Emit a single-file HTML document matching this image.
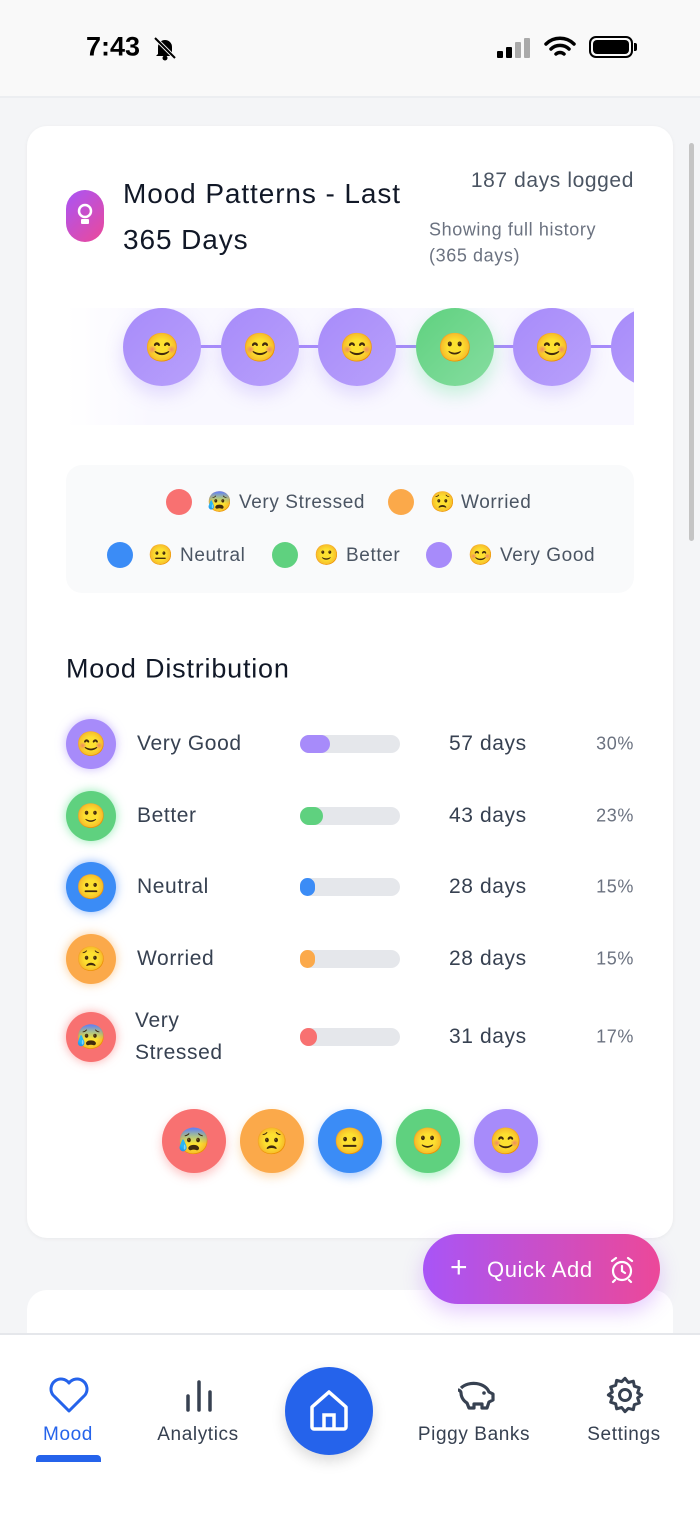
<!DOCTYPE html><html><head><meta charset="utf-8"><style>
*{margin:0;padding:0;box-sizing:border-box}
body{width:700px;height:1517px;background:#f4f5f7;font-family:"Liberation Sans","Noto Sans CJK JP",sans-serif;position:relative;overflow:hidden;color:#111827;letter-spacing:0.6px}
.a{position:absolute}
.c{position:absolute;border-radius:50%;display:flex;align-items:center;justify-content:center;letter-spacing:0}
.t{position:absolute;white-space:nowrap;transform:translateY(-50%)}
</style></head><body>
<div class="a" style="left:0;top:0;width:700px;height:98px;background:#f9f9f9;border-bottom:2px solid #eceef1"></div>
<div class="t" style="left:86px;top:47px;font-size:27px;font-weight:bold;color:#000;letter-spacing:0">7:43</div>
<svg class="a" style="left:152px;top:35px" width="26" height="26" viewBox="0 0 26 26"><path d="M6 19V12a7 7 0 0 1 14 0v7l2 2H4z" fill="#000"/><circle cx="13" cy="23" r="2.5" fill="#000"/><path d="M3 3l20 20" stroke="#f9f9f9" stroke-width="4"/><path d="M3 3l20 20" stroke="#000" stroke-width="2"/></svg>
<div class="a" style="left:497px;top:38px;width:34px;height:20px">
<div class="a" style="left:0;top:13px;width:6px;height:7px;background:#000;border-radius:1px"></div>
<div class="a" style="left:9px;top:9px;width:6px;height:11px;background:#000;border-radius:1px"></div>
<div class="a" style="left:18px;top:4px;width:6px;height:16px;background:#aaa;border-radius:1px"></div>
<div class="a" style="left:27px;top:0;width:6px;height:20px;background:#aaa;border-radius:1px"></div></div>
<svg class="a" style="left:544px;top:35px" width="32" height="24" viewBox="0 0 32 24"><path d="M2 9a20 20 0 0 1 28 0M7 14a13 13 0 0 1 18 0M12 19a6 6 0 0 1 8 0" stroke="#000" stroke-width="3.5" fill="none" stroke-linecap="round"/></svg>
<div class="a" style="left:589px;top:36px;width:44px;height:22px;border:2px solid #000;border-radius:7px;padding:2px"><div style="width:100%;height:100%;background:#000;border-radius:4px"></div></div>
<div class="a" style="left:634px;top:43px;width:3px;height:8px;background:#000;border-radius:0 2px 2px 0"></div>
<div class="a" style="left:689px;top:143px;width:5px;height:398px;background:#c4c4c4;border-radius:3px"></div>

<div class="a" style="left:27px;top:126px;width:646px;height:1112px;background:#fff;border-radius:20px;box-shadow:0 1px 4px rgba(0,0,0,.05)"></div>
<div class="a" style="left:66px;top:190px;width:38px;height:52px;border-radius:19px;background:linear-gradient(135deg,#a855f7,#ec4899)"></div>
<svg class="a" style="left:74px;top:202px" width="22" height="28" viewBox="0 0 22 28"><circle cx="11" cy="9" r="6" stroke="#fff" stroke-width="2.5" fill="none"/><rect x="7" y="17" width="8" height="5" rx="1" fill="#fff"/></svg>
<div class="t" style="left:123px;top:194px;font-size:28px;letter-spacing:0.9px">Mood Patterns - Last</div>
<div class="t" style="left:123px;top:240px;font-size:28px;letter-spacing:0.9px">365 Days</div>
<div class="t" style="right:66px;top:181px;font-size:21px;color:#4b5563">187 days logged</div>
<div class="t" style="left:429px;top:230px;font-size:18px;color:#6b7280">Showing full history</div>
<div class="t" style="left:429px;top:256px;font-size:18px;color:#6b7280">(365 days)</div>

<div class="a" style="left:66px;top:308px;width:568px;height:117px;background:linear-gradient(90deg,#fff,#f9f8ff 15%);overflow:hidden">
<div class="a" style="left:80px;top:37px;width:520px;height:3px;background:#a78bfa"></div>
<div class="c" style="left:57px;top:0;width:78px;height:78px;background:linear-gradient(135deg,#a78bfa,#b8a0fb);box-shadow:0 8px 18px rgba(167,139,250,.3);font-size:28px">😊</div>
<div class="c" style="left:155px;top:0;width:78px;height:78px;background:linear-gradient(135deg,#a78bfa,#b8a0fb);box-shadow:0 8px 18px rgba(167,139,250,.3);font-size:28px">😊</div>
<div class="c" style="left:252px;top:0;width:78px;height:78px;background:linear-gradient(135deg,#a78bfa,#b8a0fb);box-shadow:0 8px 18px rgba(167,139,250,.3);font-size:28px">😊</div>
<div class="c" style="left:350px;top:0;width:78px;height:78px;background:linear-gradient(135deg,#5fd17f,#86dda0);box-shadow:0 8px 18px rgba(74,222,128,.3);font-size:28px">🙂</div>
<div class="c" style="left:447px;top:0;width:78px;height:78px;background:linear-gradient(135deg,#a78bfa,#b8a0fb);box-shadow:0 8px 18px rgba(167,139,250,.3);font-size:28px">😊</div>
<div class="c" style="left:545px;top:0;width:78px;height:78px;background:linear-gradient(135deg,#a78bfa,#b8a0fb)"></div>
</div>

<div class="a" style="left:66px;top:465px;width:568px;height:128px;background:#f9fafb;border-radius:16px"></div>
<div style="font-size:19px;color:#4b5563">
<div class="c" style="left:166px;top:489px;width:26px;height:26px;background:#f87171"></div><div class="t" style="left:207px;top:502px;font-size:20px">😰</div><div class="t" style="left:239px;top:503px">Very Stressed</div>
<div class="c" style="left:388px;top:489px;width:26px;height:26px;background:#fba94a"></div><div class="t" style="left:430px;top:502px;font-size:20px">😟</div><div class="t" style="left:461px;top:503px">Worried</div>
<div class="c" style="left:107px;top:542px;width:26px;height:26px;background:#3b8cf6"></div><div class="t" style="left:148px;top:555px;font-size:20px">😐</div><div class="t" style="left:180px;top:556px">Neutral</div>
<div class="c" style="left:272px;top:542px;width:26px;height:26px;background:#5fd17f"></div><div class="t" style="left:314px;top:555px;font-size:20px">🙂</div><div class="t" style="left:346px;top:556px">Better</div>
<div class="c" style="left:426px;top:542px;width:26px;height:26px;background:#a78bfa"></div><div class="t" style="left:468px;top:555px;font-size:20px">😊</div><div class="t" style="left:500px;top:556px">Very Good</div>
</div>

<div class="t" style="left:66px;top:669px;font-size:27px;letter-spacing:0.8px">Mood Distribution</div>

<div style="font-size:21px;color:#374151">
<div class="c" style="left:66px;top:719px;width:50px;height:50px;background:#a78bfa;box-shadow:0 0 10px rgba(167,139,250,.6);font-size:24px">😊</div>
<div class="t" style="left:137px;top:744px">Very Good</div>
<div class="a" style="left:300px;top:735px;width:100px;height:18px;background:#e5e7eb;border-radius:9px"><div style="width:30px;height:18px;background:#a78bfa;border-radius:9px"></div></div>
<div class="t" style="left:449px;top:744px">57 days</div><div class="t" style="right:66px;top:744px;font-size:18px;color:#6b7280">30%</div>

<div class="c" style="left:66px;top:791px;width:50px;height:50px;background:#5fd17f;box-shadow:0 0 10px rgba(74,222,128,.6);font-size:24px">🙂</div>
<div class="t" style="left:137px;top:816px">Better</div>
<div class="a" style="left:300px;top:807px;width:100px;height:18px;background:#e5e7eb;border-radius:9px"><div style="width:23px;height:18px;background:#5fd17f;border-radius:9px"></div></div>
<div class="t" style="left:449px;top:816px">43 days</div><div class="t" style="right:66px;top:816px;font-size:18px;color:#6b7280">23%</div>

<div class="c" style="left:66px;top:862px;width:50px;height:50px;background:#3b8cf6;box-shadow:0 0 10px rgba(59,130,246,.6);font-size:24px">😐</div>
<div class="t" style="left:137px;top:887px">Neutral</div>
<div class="a" style="left:300px;top:878px;width:100px;height:18px;background:#e5e7eb;border-radius:9px"><div style="width:15px;height:18px;background:#3b8cf6;border-radius:9px"></div></div>
<div class="t" style="left:449px;top:887px">28 days</div><div class="t" style="right:66px;top:887px;font-size:18px;color:#6b7280">15%</div>

<div class="c" style="left:66px;top:934px;width:50px;height:50px;background:#fba94a;box-shadow:0 0 10px rgba(251,169,74,.6);font-size:24px">😟</div>
<div class="t" style="left:137px;top:959px">Worried</div>
<div class="a" style="left:300px;top:950px;width:100px;height:18px;background:#e5e7eb;border-radius:9px"><div style="width:15px;height:18px;background:#fba94a;border-radius:9px"></div></div>
<div class="t" style="left:449px;top:959px">28 days</div><div class="t" style="right:66px;top:959px;font-size:18px;color:#6b7280">15%</div>

<div class="c" style="left:66px;top:1012px;width:50px;height:50px;background:#f87171;box-shadow:0 0 10px rgba(248,113,113,.6);font-size:24px">😰</div>
<div class="t" style="left:135px;top:1021px">Very</div><div class="t" style="left:135px;top:1053px">Stressed</div>
<div class="a" style="left:300px;top:1028px;width:100px;height:18px;background:#e5e7eb;border-radius:9px"><div style="width:17px;height:18px;background:#f87171;border-radius:9px"></div></div>
<div class="t" style="left:449px;top:1037px">31 days</div><div class="t" style="right:66px;top:1037px;font-size:18px;color:#6b7280">17%</div>
</div>

<div class="c" style="left:162px;top:1109px;width:64px;height:64px;background:#f87171;box-shadow:0 4px 10px rgba(248,113,113,.4);font-size:26px">😰</div>
<div class="c" style="left:240px;top:1109px;width:64px;height:64px;background:#fba94a;box-shadow:0 4px 10px rgba(251,169,74,.4);font-size:26px">😟</div>
<div class="c" style="left:318px;top:1109px;width:64px;height:64px;background:#3b8cf6;box-shadow:0 4px 10px rgba(59,130,246,.4);font-size:26px">😐</div>
<div class="c" style="left:396px;top:1109px;width:64px;height:64px;background:#5fd17f;box-shadow:0 4px 10px rgba(74,222,128,.4);font-size:26px">🙂</div>
<div class="c" style="left:474px;top:1109px;width:64px;height:64px;background:#a78bfa;box-shadow:0 4px 10px rgba(167,139,250,.4);font-size:26px">😊</div>

<div class="a" style="left:27px;top:1290px;width:646px;height:100px;background:#fff;border-radius:20px"></div>
<div class="a" style="left:423px;top:1234px;width:237px;height:70px;border-radius:35px;background:linear-gradient(90deg,#a855f7,#ec4899);box-shadow:0 8px 20px rgba(168,85,247,.3)"></div>
<div class="t" style="left:450px;top:1268px;font-size:30px;color:#fff">+</div>
<div class="t" style="left:487px;top:1270px;font-size:22px;color:#fff">Quick Add</div>
<svg class="a" style="left:609px;top:1256px" width="26" height="28" viewBox="0 0 26 28"><circle cx="13" cy="15" r="9" stroke="#fff" stroke-width="2.2" fill="none"/><path d="M13 10v5l3 2M3 5l4-3M23 5l-4-3M6 24l-2 2M20 24l2 2" stroke="#fff" stroke-width="2.2" fill="none" stroke-linecap="round"/></svg>

<div class="a" style="left:0;top:1333px;width:700px;height:184px;background:#fff;border-top:2px solid #e5e7eb"></div>
<svg class="a" style="left:48px;top:1375px" width="42" height="40" viewBox="0 0 42 40"><path d="M21 36L5 20A9 9 0 0 1 21 8a9 9 0 0 1 16 12z" stroke="#2563eb" stroke-width="3" fill="none" stroke-linejoin="round"/></svg>
<div class="t" style="left:68px;top:1435px;font-size:19px;color:#2563eb;transform:translate(-50%,-50%)">Mood</div>
<div class="a" style="left:36px;top:1455px;width:65px;height:7px;background:#2563eb;border-radius:4px 4px 0 0"></div>
<svg class="a" style="left:184px;top:1378px" width="30" height="34"><path d="M4 18v14M15 4v28M26 14v18" stroke="#374151" stroke-width="3.5" stroke-linecap="round"/></svg>
<div class="t" style="left:198px;top:1435px;font-size:19px;color:#374151;transform:translate(-50%,-50%)">Analytics</div>
<div class="c" style="left:285px;top:1367px;width:88px;height:88px;background:#2563eb;box-shadow:0 6px 14px rgba(0,0,0,.15)"></div>
<svg class="a" style="left:308px;top:1389px" width="42" height="44" viewBox="0 0 42 44"><path d="M4 18L21 3l17 15v20a2 2 0 0 1-2 2H6a2 2 0 0 1-2-2z" stroke="#fff" stroke-width="3.5" fill="none" stroke-linejoin="round"/><path d="M16 40V26h10v14" stroke="#fff" stroke-width="3.5" fill="none"/></svg>
<svg class="a" style="left:453px;top:1378px" width="42" height="36" viewBox="0 0 42 36"><path d="M8 10a16 12 0 0 1 28 4l4 2v6l-4 2-2 6h-5v-4h-8v4h-5l-2-5c-5-3-6-8-6-10 0-2-2-3-3-3" stroke="#374151" stroke-width="3.2" fill="none" stroke-linejoin="round"/><circle cx="31" cy="15" r="1.8" fill="#374151"/></svg>
<div class="t" style="left:474px;top:1435px;font-size:19px;color:#374151;transform:translate(-50%,-50%)">Piggy Banks</div>
<svg class="a" style="left:605px;top:1375px" width="40" height="40" viewBox="0 0 24 24"><path d="M12 2l2 2.5 3-.8.6 3 3 1-1 3L22 12l-2.4 1.8 1 3-3 1-.6 3-3-.8L12 22l-2-2.5-3 .8-.6-3-3-1 1-3L2 12l2.4-1.8-1-3 3-1 .6-3 3 .8z" stroke="#374151" stroke-width="1.8" fill="none" stroke-linejoin="round"/><circle cx="12" cy="12" r="3.3" stroke="#374151" stroke-width="1.8" fill="none"/></svg>
<div class="t" style="left:624px;top:1435px;font-size:19px;color:#374151;transform:translate(-50%,-50%)">Settings</div>
</body></html>
